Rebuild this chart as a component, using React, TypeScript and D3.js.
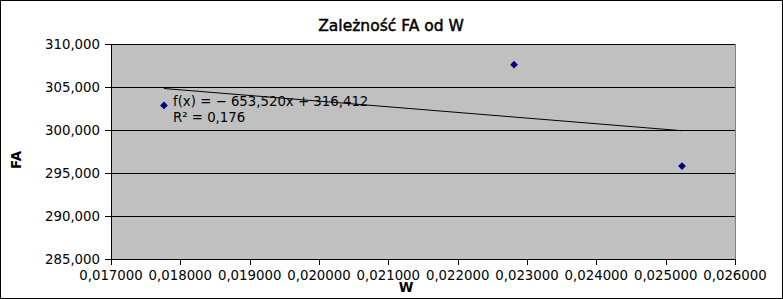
import React from "react";
import * as d3 from "d3";

const wValues = [0.017764, 0.022813, 0.025236];
const faValues = [302.85, 307.6, 295.8];
const xTicks = [0.017, 0.018, 0.019, 0.02, 0.021, 0.022, 0.023, 0.024, 0.025, 0.026];
const yTicks = [285, 290, 295, 300, 305, 310];
const title = "Zależność FA od W";
const xLabel = "W";
const yLabel = "FA";
const eqText = "f(x) = − 653,520x + 316,412";
const r2Text = "R² = 0,176";

const W = 783, H = 299;
const left = 111, right = 735, top = 44, bottom = 259;
const font = "DejaVu Sans, sans-serif";

function fmtY(v: number) {
  return d3.format(".3f")(v).replace(".", ",");
}
function fmtX(v: number) {
  return d3.format(".6f")(v).replace(".", ",");
}

export default function App() {
  const x = d3.scaleLinear().domain([0.017, 0.026]).range([left, right]);
  const y = d3.scaleLinear().domain([285, 310]).range([bottom, top]);

  const n = wValues.length;
  const mx = d3.mean(wValues)!;
  const my = d3.mean(faValues)!;
  let sxy = 0, sxx = 0;
  for (let i = 0; i < n; i++) {
    sxy += (wValues[i] - mx) * (faValues[i] - my);
    sxx += (wValues[i] - mx) ** 2;
  }
  const slope = sxy / sxx;
  const intercept = my - slope * mx;
  const x0 = d3.min(wValues)!, x1 = d3.max(wValues)!;
  const line = d3.line<number>().x((d) => x(d)).y((d) => y(slope * d + intercept));

  const diamond = d3.symbol().type(d3.symbolSquare).size(30)();

  return (
    <svg width={W} height={H} style={{ position: "absolute", left: 0, top: 0 }} fontFamily={font}>
      <rect x={0.5} y={0.5} width={W - 1} height={H - 1} fill="#fff" stroke="#000" />
      <text x={391} y={30.5} textAnchor="middle" fontSize={15.5} fill="#000" stroke="#000" strokeWidth={0.45}>{title}</text>
      <rect x={left} y={top} width={right - left} height={bottom - top} fill="#c0c0c0" />
      <line x1={right + 0.5} x2={right + 0.5} y1={top} y2={bottom} stroke="#808080" />
      {yTicks.map((t) => (
        <g key={t}>
          <line x1={left} x2={right} y1={Math.round(y(t)) + 0.5} y2={Math.round(y(t)) + 0.5} stroke="#000" />
          <line x1={left - 6} x2={left} y1={Math.round(y(t)) + 0.5} y2={Math.round(y(t)) + 0.5} stroke="#000" />
          <text x={left - 11} y={y(t) + 5} textAnchor="end" fontSize={13.3} fill="#000">{fmtY(t)}</text>
        </g>
      ))}
      <line x1={left + 0.5} x2={left + 0.5} y1={top} y2={bottom + 6} stroke="#000" />
      {xTicks.map((t) => (
        <g key={t}>
          <line x1={Math.round(x(t)) + 0.5} x2={Math.round(x(t)) + 0.5} y1={bottom} y2={bottom + 6} stroke="#000" />
          <text x={x(t)} y={280} textAnchor="middle" fontSize={13.3} fill="#000">{fmtX(t)}</text>
        </g>
      ))}
      <path d={line([x0, x1]) || ""} stroke="#000" strokeWidth={1} fill="none" />
      {wValues.map((w, i) => (
        <path key={i} d={diamond || ""} transform={`translate(${x(w)},${y(faValues[i])}) rotate(45)`} fill="#000080" />
      ))}
      <text x={173} y={106} fontSize={13.3} fill="#000">{eqText}</text>
      <text x={173} y={122} fontSize={13.3} fill="#000">{r2Text}</text>
      <text x={406} y={292} textAnchor="middle" fontSize={13.3} fontWeight="bold" fill="#000">{xLabel}</text>
      <text transform={`translate(21,160) rotate(-90)`} textAnchor="middle" fontSize={13.3} fontWeight="bold" fill="#000">{yLabel}</text>
    </svg>
  );
}
